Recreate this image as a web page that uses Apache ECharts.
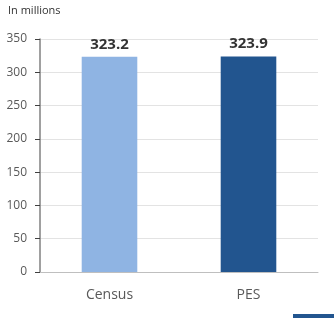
<!DOCTYPE html>
<html>
<head>
<meta charset="utf-8">
<script src="https://cdn.jsdelivr.net/npm/echarts@6/dist/echarts.min.js"></script>
<style>
  html, body { margin: 0; padding: 0; background: #fff; }
  #chart { width: 334px; height: 318px; }
</style>
</head>
<body>
<div id="chart"></div>
<script>
// 数据
const categories = ['Census', 'PES'];
const populations = [323.2, 323.9];
const barColors = ['#8FB4E3', '#22558F'];
const yTicks = [0, 50, 100, 150, 200, 250, 300, 350];

const chart = echarts.init(document.getElementById('chart'));

const option = {
  animation: false,
  grid: {
    left: 40,
    right: 16,
    top: 39,
    bottom: 46
  },
  graphic: [
    {
      type: 'text',
      left: 8,
      top: 5,
      style: {
        text: 'In millions',
        fontSize: 11,
        fontFamily: 'Open Sans',
        fill: '#333'
      }
    },
    {
      type: 'rect',
      shape: { x: 293, y: 314, width: 41, height: 4 },
      style: { fill: '#22558F' }
    }
  ],
  xAxis: {
    type: 'category',
    data: categories,
    axisLine: { lineStyle: { color: '#bfbfbf', width: 1 } },
    axisTick: { show: false },
    axisLabel: {
      fontSize: 14,
      fontFamily: 'Open Sans',
      color: '#595959',
      margin: 16
    }
  },
  yAxis: {
    type: 'value',
    min: yTicks[0],
    max: yTicks[yTicks.length - 1],
    interval: 50,
    axisLine: { show: true, lineStyle: { color: '#808080', width: 1.5 } },
    axisTick: { show: true, length: 5, lineStyle: { color: '#404040' } },
    axisLabel: {
      fontSize: 12,
      fontFamily: 'Open Sans',
      color: '#595959',
      margin: 13
    },
    splitLine: { lineStyle: { color: '#e3e3e3', width: 1 } }
  },
  series: [
    {
      type: 'bar',
      barWidth: '40%',
      data: populations.map((v, i) => ({
        value: v,
        itemStyle: { color: barColors[i] }
      })),
      label: {
        show: true,
        position: 'top',
        distance: 5,
        fontSize: 15,
        fontWeight: 'bold',
        fontFamily: 'Open Sans',
        color: '#333'
      }
    }
  ]
};

chart.setOption(option);
</script>
</body>
</html>
